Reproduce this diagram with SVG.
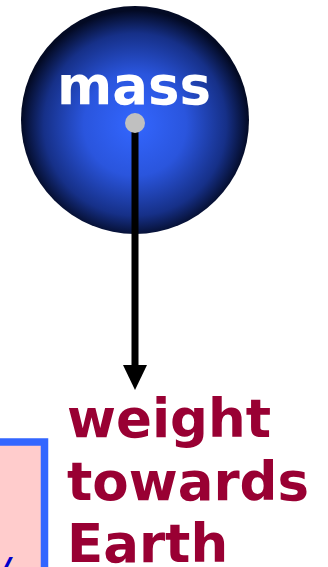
<svg xmlns="http://www.w3.org/2000/svg" width="328" height="567" viewBox="0 0 328 567">
<style>
.lbl{font-family:"DejaVu Sans",Verdana,sans-serif;font-weight:bold}
.mass{fill:#ffffff;font-size:53px}
.weight{fill:#990033;font-size:53px}
</style>
<defs>
<radialGradient id="sph" cx="0.5" cy="0.52" r="0.5">
<stop offset="0" stop-color="#3366ff"/>
<stop offset="0.45" stop-color="#2a55dd"/>
<stop offset="0.8" stop-color="#163088"/>
<stop offset="1" stop-color="#030a24"/>
</radialGradient>
</defs>
<g id="box">
<rect x="-20" y="442" width="64.5" height="140" fill="#ffcccc" stroke="#3366ff" stroke-width="7.5"/>
<text x="-1" y="580" style="font-family:'DejaVu Sans',sans-serif;font-weight:bold;font-style:italic;font-size:32px;fill:#0000cc">/</text>
</g>
<g id="mass">
<circle cx="135" cy="120" r="114" fill="url(#sph)"/>
<text class="lbl mass" x="134" y="104" text-anchor="middle">mass</text>
</g>
<g id="connectors">
<line x1="135" y1="123" x2="135" y2="366" stroke="#000" stroke-width="7"/>
<path d="M123,365 L147,365 L135,390 Z" fill="#000"/>
</g>
<g id="dot">
<circle cx="135" cy="123" r="10" fill="#c0c0c0"/>
</g>
<g id="weight">
<text class="lbl weight" x="67" y="437">weight</text>
<text class="lbl weight" x="67" y="500">towards</text>
<text class="lbl weight" x="67" y="562">Earth</text>
</g>
</svg>
